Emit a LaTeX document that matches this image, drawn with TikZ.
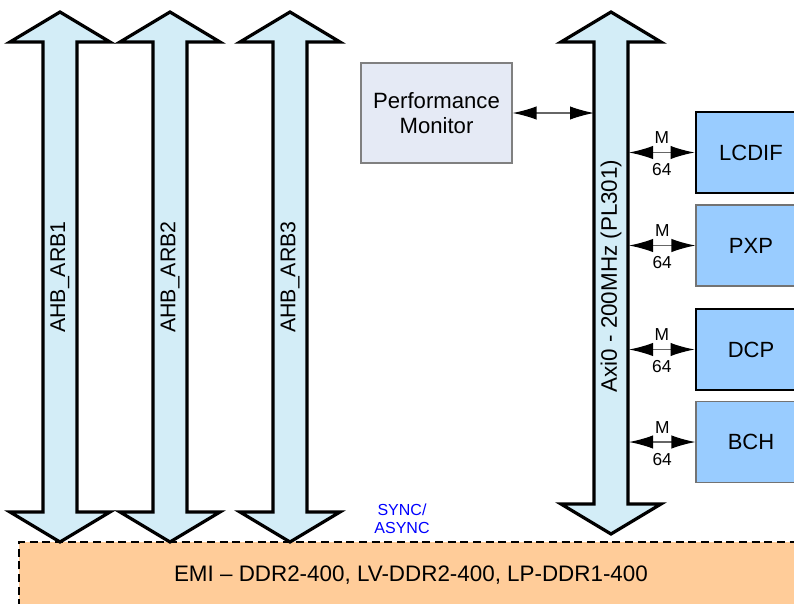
\documentclass[tikz,border=0pt]{standalone}
\usepackage{fontspec}
\setmainfont{Liberation Sans}
\usetikzlibrary{arrows.meta}

\definecolor{busblue}{RGB}{211,237,247}
\definecolor{blkblue}{RGB}{153,204,255}
\definecolor{pmgray}{RGB}{229,234,245}
\definecolor{emiorange}{RGB}{255,204,153}

% wide double headed bus arrow: centre x, top tip y, bottom tip y
\newcommand{\busarrow}[3]{%
  \draw[bus] (#1,#2) -- ++(50,30) -- ++(-33,0) -- (#1+17,#3-30) -- ++(33,0)
    -- (#1,#3) -- ++(-50,-30) -- ++(33,0) -- (#1-17,#2+30) -- ++(-33,0) -- cycle;}

\begin{document}
\begin{tikzpicture}[x=0.75pt,y=-0.75pt,
    bus/.style={fill=busblue,draw=black,line width=2.4pt,line join=miter},
    buslabel/.style={rotate=90,font=\fontsize{16}{19}\selectfont},
    blk/.style={draw=black!55,line width=0.8pt,fill=blkblue,minimum width=82.5pt,minimum height=60.75pt,font=\fontsize{16.5}{19}\selectfont},
    heavy/.style={draw=black,line width=2.2pt},
    link/.style={draw=black!60,line width=0.9pt,{Latex[length=18pt,width=10pt,color=black]}-{Latex[length=18pt,width=10pt,color=black]}},
    tag/.style={font=\fontsize{13}{15}\selectfont,inner sep=1pt}]
    \useasboundingbox (0,0) rectangle (794,604);

    % memory controller
    \draw[emiorange,fill=emiorange] (19,542) rectangle (810,620);
    \draw[black,line width=1.6pt,dash pattern=on 6pt off 3.5pt] (19,620) -- (19,542) -- (810,542);
    \node[font=\fontsize{16.8}{19}\selectfont] (emi) at (411,575) {EMI -- DDR2-400, LV-DDR2-400, LP-DDR1-400};
    \node[align=center,text=blue,font=\fontsize{12}{13.5}\selectfont] (sync) at (402,519) {SYNC/\\ASYNC};

    % AHB buses
    \foreach \cx/\n in {60/1,170/2,290/3} {
        \busarrow{\cx}{12}{542}
        \node[buslabel] (ahb\n) at (\cx,277) {AHB\_ARB\n};
    }

    % AXI bus
    \busarrow{611}{12}{534}
    \node[buslabel,font=\fontsize{16.8}{19}\selectfont] (axi) at (611,276) {Axi0 - 200MHz (PL301)};
    \coordinate (axiL) at (594,0);
    \coordinate (axiR) at (629,0);

    \node[draw=black!50,line width=0.8pt,fill=pmgray,minimum width=113.25pt,minimum height=75pt,
          align=center,font=\fontsize{16.6}{19}\selectfont] (pm) at (436.5,113) {Performance\\Monitor};

    \node[blk,heavy] (lcdif) at (751,152.5) {LCDIF};
    \node[blk] (pxp) at (751,245.5) {PXP};
    \node[blk,heavy] (dcp) at (751,349.5) {DCP};
    \node[blk] (bch) at (751,442) {BCH};

    \draw[link] (pm.east) -- (pm.east -| axiL);
    \foreach \b in {lcdif,pxp,dcp,bch}
        \draw[link] (\b.west -| axiR) -- (\b.west)
            node[midway,above=5pt,tag] {M} node[midway,below=7pt,tag] {64};
\end{tikzpicture}
\end{document}
